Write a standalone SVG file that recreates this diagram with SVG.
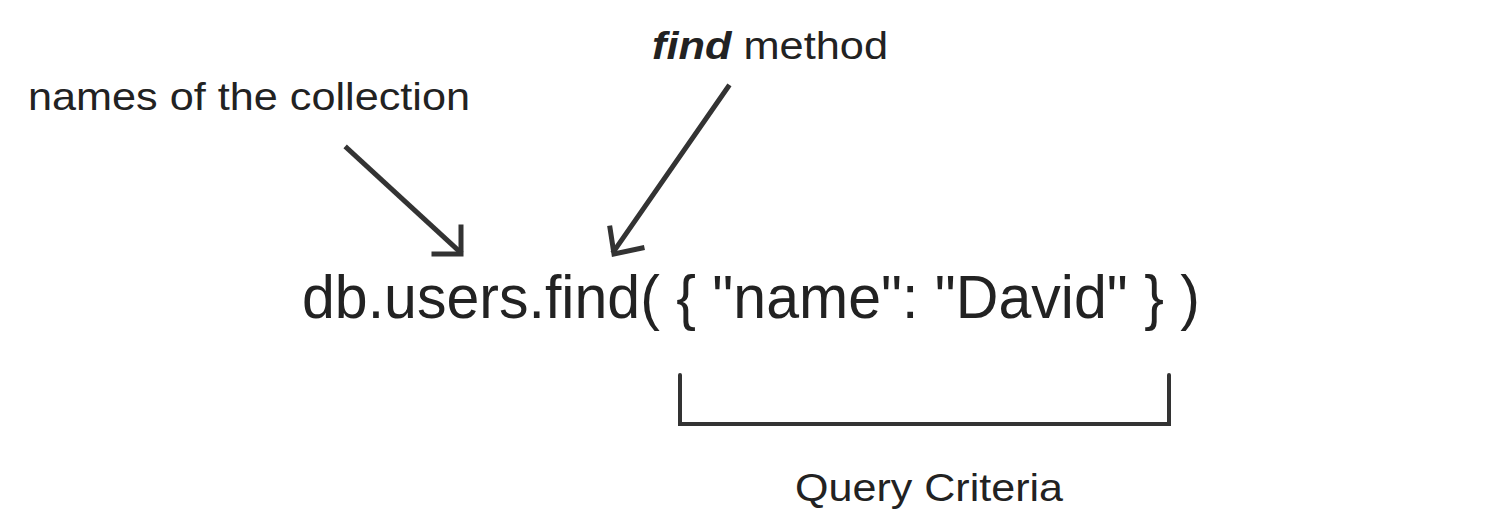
<svg xmlns="http://www.w3.org/2000/svg" width="1489" height="527" viewBox="0 0 1489 527">
<style>
text{font-family:"Liberation Sans",Arial,sans-serif;fill:#222}
.ln{stroke:#333;stroke-width:5;fill:none;stroke-linecap:square;stroke-linejoin:miter}
.br{stroke:#333;stroke-width:4;fill:none;stroke-linecap:round}
</style>
<rect width="1489" height="527" fill="#fff"/>
<g id="label-collection"><text x="28" y="110" font-size="39" textLength="442" lengthAdjust="spacingAndGlyphs">names of the collection</text></g>
<g id="label-find"><text x="652" y="59" font-size="39" textLength="236" lengthAdjust="spacingAndGlyphs"><tspan font-weight="bold" font-style="italic">find</tspan> method</text></g>
<g id="code"><text x="302" y="318" font-size="61" textLength="898" lengthAdjust="spacingAndGlyphs">db.users.find( { "name": "David" } )</text></g>
<g id="label-query"><text x="795" y="501" font-size="39" textLength="268" lengthAdjust="spacingAndGlyphs">Query Criteria</text></g>
<g id="connectors">
<path class="ln" d="M347,148 L460,252"/>
<path class="ln" d="M461,227 L461,254 L434,254"/>
<path class="ln" d="M728,87 L614,251"/>
<path class="ln" d="M610,228 L614,254 L642,248"/>
<path class="br" d="M680,375 L680,424 L1169,424 L1169,375"/>
</g>
</svg>
